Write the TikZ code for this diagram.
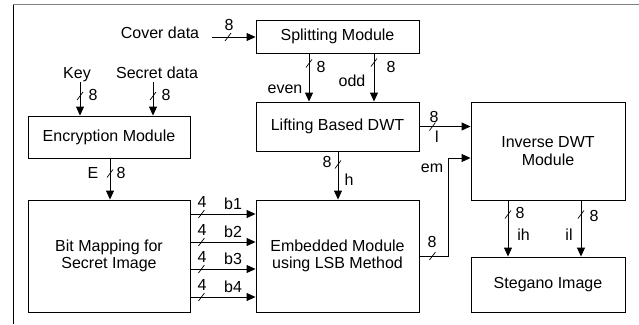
\documentclass[tikz,border=0pt]{standalone}
\usepackage{fontspec}
\setmainfont{Liberation Sans}
\usetikzlibrary{arrows.meta,decorations.markings}

\newcommand\figfont{\fontsize{16}{17.6}\selectfont}

\tikzset{
  box/.style={draw, line width=0.9pt, inner sep=0pt, align=center, font=\figfont},
  conn/.style={line width=0.9pt, -{Triangle[length=9pt,width=8pt]}},
  % short oblique bus-width mark, always drawn as "/" on the page
  bus/.style={postaction={decorate, decoration={markings,
      mark=at position #1 with {\pgftransformresetnontranslations
        \draw[-, line width=0.7pt] (-3pt,-4pt) -- (3pt,4pt);}}}},
  txt/.style={font=\figfont, inner sep=0pt, anchor=base},
}

\begin{document}
\begin{tikzpicture}[x=1pt,y=-1pt]
\useasboundingbox (0,0) rectangle (639,324);

% frame
\draw[gray, line width=1.5pt] (13,4.5) -- (639,4.5);
\draw[line width=1pt] (13,4.5) -- (13,324);

% blocks
\node[box, minimum width=163pt, minimum height=33pt]  (split) at (337.5,36.5) {Splitting Module};
\node[box, minimum width=163pt, minimum height=49pt]  (lift)  at (337.5,126.5) {Lifting Based DWT};
\node[box, minimum width=162pt, minimum height=42pt]  (enc)   at (109,137) {Encryption Module};
\node[box, minimum width=162pt, minimum height=112pt] (bit)   at (109,256) {Bit Mapping for\\Secret Image};
\node[box, minimum width=163pt, minimum height=112pt] (emb)   at (337.5,256) {Embedded Module\\using LSB Method};
\node[box, minimum width=154pt, minimum height=98pt]  (inv)   at (548,151) {Inverse DWT\\Module};
\node[box, minimum width=154pt, minimum height=55pt]  (steg)  at (548,284.5) {Stegano Image};

% inputs
\node[txt] (cover)  at (160,38) {Cover data};
\node[txt] (key)    at (77,78) {Key};
\node[txt] (secret) at (157,78) {Secret data};
\coordinate (coverin) at (212,37);
\coordinate (keyin)   at (80,82);
\coordinate (secin)   at (153,82);

% connectors
\draw[conn, bus=16pt] (coverin) -- (coverin -| split.west);
\draw[conn, bus=14pt] (keyin) -- (keyin |- enc.north);
\draw[conn, bus=14pt] (secin) -- (secin |- enc.north);
\draw[conn, bus=10pt] ([xshift=-28.5pt]split.south) -- ([xshift=-28.5pt]lift.north);
\draw[conn, bus=9pt]  ([xshift=36.5pt]split.south) -- ([xshift=36.5pt]lift.north);
\draw[conn, bus=13pt] (lift.east) -- (lift.east -| inv.west);
\draw[conn, bus=13pt] ([xshift=0.5pt]lift.south) -- ([xshift=0.5pt]emb.north);
\draw[conn, bus=13pt] (emb.east) -- ++(29,0) |- ([yshift=-7pt]inv.west);
\draw[conn, bus=15pt] ([xshift=1pt]enc.south) -- ([xshift=1pt]bit.north);
\draw[conn, bus=11pt] ([yshift=42pt]bit.east)  -- ([yshift=42pt]emb.west);
\draw[conn, bus=11pt] ([yshift=14pt]bit.east)  -- ([yshift=14pt]emb.west);
\draw[conn, bus=11pt] ([yshift=-13pt]bit.east) -- ([yshift=-13pt]emb.west);
\draw[conn, bus=11pt] ([yshift=-41pt]bit.east) -- ([yshift=-41pt]emb.west);
\draw[conn, bus=14pt] ([xshift=-40pt]inv.south) -- ([xshift=-40pt]steg.north);
\draw[conn, bus=14pt] ([xshift=33pt]inv.south)  -- ([xshift=33pt]steg.north);

% widths and signal names
\node[txt] (wcover) at (229,30) {8};
\node[txt] (wkey)   at (93,100) {8};
\node[txt] (wsec)   at (166,100) {8};
\node[txt] (leven)  at (285,93) {even};
\node[txt] (weven)  at (321,72) {8};
\node[txt] (lodd)   at (352,86) {odd};
\node[txt] (wodd)   at (391,72) {8};
\node[txt] (wl)     at (434,122) {8};
\node[txt] (ll)     at (437,142) {l};
\node[txt] (wh)     at (327,167) {8};
\node[txt] (lh)     at (349,185) {h};
\node[txt] (lem)    at (432,172) {em};
\node[txt] (wem)    at (432,247) {8};
\node[txt] (lE)     at (93,178) {E};
\node[txt] (wE)     at (121,178) {8};
\node[txt] (w1) at (202,207) {4};  \node[txt] (lb1) at (233,209) {b1};
\node[txt] (w2) at (202,235) {4};  \node[txt] (lb2) at (233,237) {b2};
\node[txt] (w3) at (202,262) {4};  \node[txt] (lb3) at (233,264) {b3};
\node[txt] (w4) at (202,290) {4};  \node[txt] (lb4) at (233,292) {b4};
\node[txt] (wih)    at (520,218) {8};
\node[txt] (lih)    at (523.5,240) {ih};
\node[txt] (wil)    at (594,221) {8};
\node[txt] (lil)    at (569,240) {il};
\end{tikzpicture}
\end{document}
